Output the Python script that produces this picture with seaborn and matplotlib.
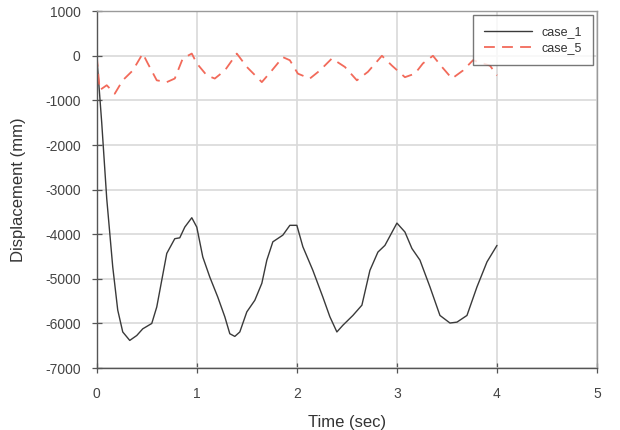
import pandas as pd
import matplotlib
matplotlib.use("Agg")
import matplotlib.pyplot as plt
import seaborn as sns

# Time history values
t_case1 = [0, 0.03, 0.05, 0.1, 0.16, 0.21, 0.26, 0.33, 0.40, 0.46, 0.55, 0.60, 0.65,
           0.70, 0.78, 0.83, 0.88, 0.95, 1.0, 1.06, 1.13, 1.21, 1.28, 1.33, 1.38, 1.43,
           1.50, 1.58, 1.65, 1.70, 1.76, 1.86, 1.93, 2.0, 2.06, 2.16, 2.26, 2.33, 2.40,
           2.46, 2.56, 2.65, 2.73, 2.81, 2.88, 3.0, 3.08, 3.15, 3.23, 3.33, 3.43, 3.53,
           3.60, 3.70, 3.80, 3.90, 4.0]
d_case1 = [0, -900, -1500, -3200, -4730, -5700, -6190, -6380, -6270, -6120, -6000, -5630,
           -5030, -4430, -4100, -4080, -3840, -3630, -3840, -4510, -4960, -5410, -5850,
           -6230, -6290, -6190, -5740, -5480, -5100, -4580, -4170, -4020, -3800, -3800,
           -4280, -4810, -5410, -5850, -6190, -6040, -5820, -5590, -4810, -4400, -4250,
           -3750, -3950, -4320, -4580, -5180, -5820, -5990, -5970, -5820, -5180, -4620,
           -4250]

t_case5 = [0, 0.03, 0.1, 0.18, 0.26, 0.36, 0.46, 0.51, 0.60, 0.70, 0.78, 0.86, 0.95,
           1.0, 1.10, 1.18, 1.28, 1.40, 1.50, 1.65, 1.75, 1.86, 1.93, 2.01, 2.13, 2.23,
           2.35, 2.48, 2.60, 2.71, 2.85, 2.95, 3.08, 3.18, 3.26, 3.36, 3.45, 3.55, 3.66,
           3.76, 3.93, 4.0]
d_case5 = [0, -770, -660, -850, -550, -330, 50, -170, -550, -590, -510, -60, 50, -170,
           -440, -510, -330, 50, -250, -590, -330, -30, -100, -400, -510, -330, -60, -250,
           -550, -360, 0, -220, -480, -400, -170, 0, -250, -510, -330, -100, -220, -440]

x_ticks = [0, 1, 2, 3, 4, 5]
y_ticks = list(range(-7000, 1001, 1000))

df1 = pd.DataFrame({"time": t_case1, "disp": d_case1})
df5 = pd.DataFrame({"time": t_case5, "disp": d_case5})

sns.set_theme(style="whitegrid")
plt.rcParams["font.family"] = ["Liberation Sans", "DejaVu Sans"]
plt.rcParams["axes.unicode_minus"] = False

fig = plt.figure(figsize=(6.2, 4.3), dpi=100)
ax = fig.add_axes([0.156, 0.144, 0.807, 0.830])

sns.lineplot(data=df1, x="time", y="disp", ax=ax, color="#3a3a3a", linewidth=1.0,
             estimator=None, sort=False, label="case_1")
sns.lineplot(data=df5, x="time", y="disp", ax=ax, color="#f26a5a", linewidth=1.3,
             estimator=None, sort=False, label="case_5")
ax.lines[1].set_dashes([6, 4])

ax.set_xlim(0, 5)
ax.set_ylim(-7000, 1000)
ax.set_xticks(x_ticks)
ax.set_yticks(y_ticks)
ax.grid(True, color="#d9d9d9", linewidth=1.2)
ax.set_facecolor("white")

for side in ["left", "bottom"]:
    ax.spines[side].set_color("#555555")
    ax.spines[side].set_linewidth(1.0)
for side in ["top", "right"]:
    ax.spines[side].set_color("#9a9a9a")
    ax.spines[side].set_linewidth(1.0)

ax.tick_params(axis="both", bottom=True, left=True, direction="inout", length=7,
               width=0.9, color="#555555", labelsize=10, labelcolor="#444444")
ax.tick_params(axis="x", pad=10)
ax.tick_params(axis="y", pad=8)

ax.set_xlabel("Time (sec)", fontsize=12, color="#333333", labelpad=10)
ax.set_ylabel("Displacement (mm)", fontsize=12, color="#333333", labelpad=14)

leg = ax.legend(loc="upper right", fontsize=9, frameon=True, fancybox=False,
                borderaxespad=0.3, handlelength=3.8, labelspacing=0.3,
                borderpad=0.9)
leg.get_frame().set_edgecolor("#555555")
leg.get_frame().set_linewidth(1.0)
for txt in leg.get_texts():
    txt.set_color("#333333")

plt.savefig("out.png", dpi=100)
plt.close()
